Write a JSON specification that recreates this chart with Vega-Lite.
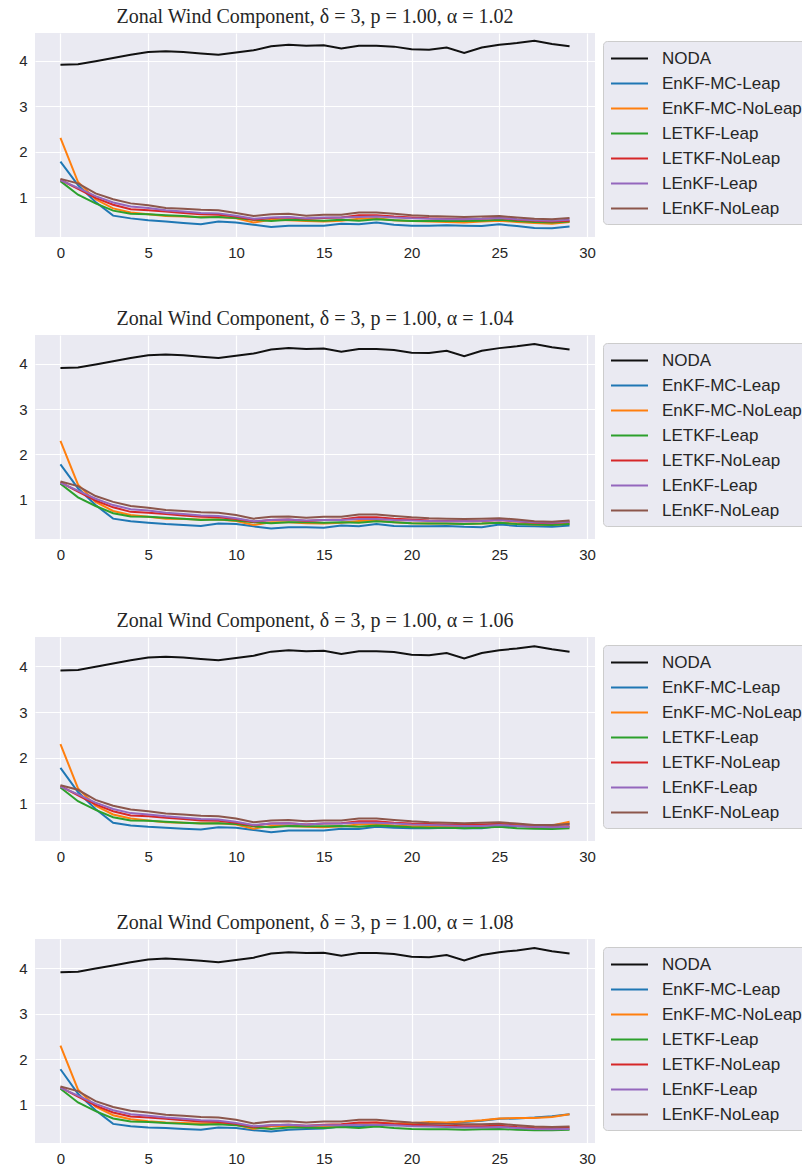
{
 "$schema": "https://vega.github.io/schema/vega-lite/v6.json",
 "background": "white",
 "padding": {"left": 18, "top": 7, "right": 0, "bottom": 0},
 "config": {
  "font": "Liberation Sans",
  "view": {"fill": "#EAEAF2", "stroke": null},
  "axis": {"domain": false, "ticks": false, "grid": true, "gridColor": "#FFFFFF", "gridWidth": 1.2, "labelFontSize": 15, "labelColor": "#262626", "labelPadding": 8, "title": null},
  "title": {"font": "Liberation Serif", "fontSize": 20, "fontWeight": "normal", "color": "#262626", "offset": 6},
  "legend": {"orient": "none", "legendX": 568, "legendY": 8, "fillColor": "#EAEAF2", "strokeColor": "#CCCCCC", "cornerRadius": 4, "padding": 7, "symbolType": "M-2,0H2", "symbolSize": 342, "symbolStrokeWidth": 2, "symbolOffset": 9, "labelFontSize": 17, "labelColor": "#262626", "labelOffset": 22, "rowPadding": 6, "labelLimit": 300},
  "concat": {"spacing": 49}
 },
 "resolve": {"legend": {"color": "independent"}},
 "datasets": {
  "d1": [
   {"t":0,"NODA":3.91,"EnKF-MC-Leap":1.78,"EnKF-MC-NoLeap":2.30,"LETKF-Leap":1.35,"LETKF-NoLeap":1.38,"LEnKF-Leap":1.37,"LEnKF-NoLeap":1.40},
   {"t":1,"NODA":3.92,"EnKF-MC-Leap":1.26,"EnKF-MC-NoLeap":1.33,"LETKF-Leap":1.05,"LETKF-NoLeap":1.18,"LEnKF-Leap":1.20,"LEnKF-NoLeap":1.30},
   {"t":2,"NODA":3.99,"EnKF-MC-Leap":0.89,"EnKF-MC-NoLeap":0.95,"LETKF-Leap":0.86,"LETKF-NoLeap":0.98,"LEnKF-Leap":1.02,"LEnKF-NoLeap":1.08},
   {"t":3,"NODA":4.06,"EnKF-MC-Leap":0.59,"EnKF-MC-NoLeap":0.75,"LETKF-Leap":0.70,"LETKF-NoLeap":0.83,"LEnKF-Leap":0.88,"LEnKF-NoLeap":0.95},
   {"t":4,"NODA":4.13,"EnKF-MC-Leap":0.53,"EnKF-MC-NoLeap":0.66,"LETKF-Leap":0.63,"LETKF-NoLeap":0.73,"LEnKF-Leap":0.79,"LEnKF-NoLeap":0.86},
   {"t":5,"NODA":4.19,"EnKF-MC-Leap":0.49,"EnKF-MC-NoLeap":0.62,"LETKF-Leap":0.62,"LETKF-NoLeap":0.71,"LEnKF-Leap":0.76,"LEnKF-NoLeap":0.82},
   {"t":6,"NODA":4.21,"EnKF-MC-Leap":0.46,"EnKF-MC-NoLeap":0.58,"LETKF-Leap":0.60,"LETKF-NoLeap":0.68,"LEnKF-Leap":0.71,"LEnKF-NoLeap":0.76},
   {"t":7,"NODA":4.19,"EnKF-MC-Leap":0.43,"EnKF-MC-NoLeap":0.57,"LETKF-Leap":0.58,"LETKF-NoLeap":0.65,"LEnKF-Leap":0.68,"LEnKF-NoLeap":0.74},
   {"t":8,"NODA":4.16,"EnKF-MC-Leap":0.40,"EnKF-MC-NoLeap":0.56,"LETKF-Leap":0.55,"LETKF-NoLeap":0.62,"LEnKF-Leap":0.65,"LEnKF-NoLeap":0.72},
   {"t":9,"NODA":4.13,"EnKF-MC-Leap":0.46,"EnKF-MC-NoLeap":0.56,"LETKF-Leap":0.56,"LETKF-NoLeap":0.61,"LEnKF-Leap":0.64,"LEnKF-NoLeap":0.71},
   {"t":10,"NODA":4.18,"EnKF-MC-Leap":0.44,"EnKF-MC-NoLeap":0.53,"LETKF-Leap":0.54,"LETKF-NoLeap":0.57,"LEnKF-Leap":0.59,"LEnKF-NoLeap":0.65},
   {"t":11,"NODA":4.23,"EnKF-MC-Leap":0.39,"EnKF-MC-NoLeap":0.44,"LETKF-Leap":0.50,"LETKF-NoLeap":0.50,"LEnKF-Leap":0.52,"LEnKF-NoLeap":0.58},
   {"t":12,"NODA":4.32,"EnKF-MC-Leap":0.34,"EnKF-MC-NoLeap":0.50,"LETKF-Leap":0.47,"LETKF-NoLeap":0.54,"LEnKF-Leap":0.55,"LEnKF-NoLeap":0.62},
   {"t":13,"NODA":4.35,"EnKF-MC-Leap":0.37,"EnKF-MC-NoLeap":0.49,"LETKF-Leap":0.50,"LETKF-NoLeap":0.55,"LEnKF-Leap":0.56,"LEnKF-NoLeap":0.63},
   {"t":14,"NODA":4.33,"EnKF-MC-Leap":0.37,"EnKF-MC-NoLeap":0.47,"LETKF-Leap":0.49,"LETKF-NoLeap":0.52,"LEnKF-Leap":0.53,"LEnKF-NoLeap":0.59},
   {"t":15,"NODA":4.34,"EnKF-MC-Leap":0.37,"EnKF-MC-NoLeap":0.46,"LETKF-Leap":0.48,"LETKF-NoLeap":0.54,"LEnKF-Leap":0.55,"LEnKF-NoLeap":0.61},
   {"t":16,"NODA":4.27,"EnKF-MC-Leap":0.41,"EnKF-MC-NoLeap":0.48,"LETKF-Leap":0.50,"LETKF-NoLeap":0.55,"LEnKF-Leap":0.55,"LEnKF-NoLeap":0.61},
   {"t":17,"NODA":4.33,"EnKF-MC-Leap":0.40,"EnKF-MC-NoLeap":0.52,"LETKF-Leap":0.48,"LETKF-NoLeap":0.60,"LEnKF-Leap":0.56,"LEnKF-NoLeap":0.66},
   {"t":18,"NODA":4.33,"EnKF-MC-Leap":0.44,"EnKF-MC-NoLeap":0.53,"LETKF-Leap":0.51,"LETKF-NoLeap":0.60,"LEnKF-Leap":0.57,"LEnKF-NoLeap":0.66},
   {"t":19,"NODA":4.31,"EnKF-MC-Leap":0.39,"EnKF-MC-NoLeap":0.49,"LETKF-Leap":0.49,"LETKF-NoLeap":0.57,"LEnKF-Leap":0.55,"LEnKF-NoLeap":0.63},
   {"t":20,"NODA":4.25,"EnKF-MC-Leap":0.37,"EnKF-MC-NoLeap":0.47,"LETKF-Leap":0.47,"LETKF-NoLeap":0.55,"LEnKF-Leap":0.53,"LEnKF-NoLeap":0.60},
   {"t":21,"NODA":4.24,"EnKF-MC-Leap":0.37,"EnKF-MC-NoLeap":0.46,"LETKF-Leap":0.47,"LETKF-NoLeap":0.53,"LEnKF-Leap":0.52,"LEnKF-NoLeap":0.58},
   {"t":22,"NODA":4.29,"EnKF-MC-Leap":0.38,"EnKF-MC-NoLeap":0.45,"LETKF-Leap":0.47,"LETKF-NoLeap":0.52,"LEnKF-Leap":0.51,"LEnKF-NoLeap":0.57},
   {"t":23,"NODA":4.17,"EnKF-MC-Leap":0.37,"EnKF-MC-NoLeap":0.44,"LETKF-Leap":0.47,"LETKF-NoLeap":0.51,"LEnKF-Leap":0.51,"LEnKF-NoLeap":0.56},
   {"t":24,"NODA":4.29,"EnKF-MC-Leap":0.36,"EnKF-MC-NoLeap":0.46,"LETKF-Leap":0.48,"LETKF-NoLeap":0.52,"LEnKF-Leap":0.52,"LEnKF-NoLeap":0.57},
   {"t":25,"NODA":4.35,"EnKF-MC-Leap":0.40,"EnKF-MC-NoLeap":0.48,"LETKF-Leap":0.50,"LETKF-NoLeap":0.54,"LEnKF-Leap":0.54,"LEnKF-NoLeap":0.58},
   {"t":26,"NODA":4.39,"EnKF-MC-Leap":0.36,"EnKF-MC-NoLeap":0.45,"LETKF-Leap":0.47,"LETKF-NoLeap":0.50,"LEnKF-Leap":0.51,"LEnKF-NoLeap":0.55},
   {"t":27,"NODA":4.44,"EnKF-MC-Leap":0.32,"EnKF-MC-NoLeap":0.43,"LETKF-Leap":0.45,"LETKF-NoLeap":0.48,"LEnKF-Leap":0.49,"LEnKF-NoLeap":0.52},
   {"t":28,"NODA":4.37,"EnKF-MC-Leap":0.31,"EnKF-MC-NoLeap":0.41,"LETKF-Leap":0.44,"LETKF-NoLeap":0.46,"LEnKF-Leap":0.48,"LEnKF-NoLeap":0.51},
   {"t":29,"NODA":4.32,"EnKF-MC-Leap":0.35,"EnKF-MC-NoLeap":0.45,"LETKF-Leap":0.46,"LETKF-NoLeap":0.48,"LEnKF-Leap":0.50,"LEnKF-NoLeap":0.54}
  ],
  "d2": [
   {"t":0,"NODA":3.91,"EnKF-MC-Leap":1.78,"EnKF-MC-NoLeap":2.30,"LETKF-Leap":1.35,"LETKF-NoLeap":1.38,"LEnKF-Leap":1.37,"LEnKF-NoLeap":1.40},
   {"t":1,"NODA":3.92,"EnKF-MC-Leap":1.25,"EnKF-MC-NoLeap":1.33,"LETKF-Leap":1.05,"LETKF-NoLeap":1.18,"LEnKF-Leap":1.20,"LEnKF-NoLeap":1.30},
   {"t":2,"NODA":3.99,"EnKF-MC-Leap":0.88,"EnKF-MC-NoLeap":0.95,"LETKF-Leap":0.86,"LETKF-NoLeap":0.98,"LEnKF-Leap":1.02,"LEnKF-NoLeap":1.08},
   {"t":3,"NODA":4.06,"EnKF-MC-Leap":0.58,"EnKF-MC-NoLeap":0.75,"LETKF-Leap":0.70,"LETKF-NoLeap":0.83,"LEnKF-Leap":0.88,"LEnKF-NoLeap":0.95},
   {"t":4,"NODA":4.13,"EnKF-MC-Leap":0.52,"EnKF-MC-NoLeap":0.66,"LETKF-Leap":0.63,"LETKF-NoLeap":0.73,"LEnKF-Leap":0.79,"LEnKF-NoLeap":0.86},
   {"t":5,"NODA":4.19,"EnKF-MC-Leap":0.49,"EnKF-MC-NoLeap":0.62,"LETKF-Leap":0.62,"LETKF-NoLeap":0.71,"LEnKF-Leap":0.76,"LEnKF-NoLeap":0.82},
   {"t":6,"NODA":4.21,"EnKF-MC-Leap":0.46,"EnKF-MC-NoLeap":0.58,"LETKF-Leap":0.60,"LETKF-NoLeap":0.68,"LEnKF-Leap":0.71,"LEnKF-NoLeap":0.77},
   {"t":7,"NODA":4.19,"EnKF-MC-Leap":0.44,"EnKF-MC-NoLeap":0.57,"LETKF-Leap":0.58,"LETKF-NoLeap":0.65,"LEnKF-Leap":0.68,"LEnKF-NoLeap":0.75},
   {"t":8,"NODA":4.16,"EnKF-MC-Leap":0.42,"EnKF-MC-NoLeap":0.56,"LETKF-Leap":0.55,"LETKF-NoLeap":0.62,"LEnKF-Leap":0.65,"LEnKF-NoLeap":0.72},
   {"t":9,"NODA":4.13,"EnKF-MC-Leap":0.47,"EnKF-MC-NoLeap":0.56,"LETKF-Leap":0.56,"LETKF-NoLeap":0.61,"LEnKF-Leap":0.64,"LEnKF-NoLeap":0.71},
   {"t":10,"NODA":4.18,"EnKF-MC-Leap":0.46,"EnKF-MC-NoLeap":0.53,"LETKF-Leap":0.54,"LETKF-NoLeap":0.57,"LEnKF-Leap":0.59,"LEnKF-NoLeap":0.66},
   {"t":11,"NODA":4.23,"EnKF-MC-Leap":0.41,"EnKF-MC-NoLeap":0.44,"LETKF-Leap":0.50,"LETKF-NoLeap":0.51,"LEnKF-Leap":0.52,"LEnKF-NoLeap":0.58},
   {"t":12,"NODA":4.32,"EnKF-MC-Leap":0.36,"EnKF-MC-NoLeap":0.50,"LETKF-Leap":0.48,"LETKF-NoLeap":0.55,"LEnKF-Leap":0.55,"LEnKF-NoLeap":0.62},
   {"t":13,"NODA":4.35,"EnKF-MC-Leap":0.39,"EnKF-MC-NoLeap":0.50,"LETKF-Leap":0.50,"LETKF-NoLeap":0.56,"LEnKF-Leap":0.56,"LEnKF-NoLeap":0.63},
   {"t":14,"NODA":4.33,"EnKF-MC-Leap":0.39,"EnKF-MC-NoLeap":0.48,"LETKF-Leap":0.50,"LETKF-NoLeap":0.53,"LEnKF-Leap":0.54,"LEnKF-NoLeap":0.60},
   {"t":15,"NODA":4.34,"EnKF-MC-Leap":0.38,"EnKF-MC-NoLeap":0.47,"LETKF-Leap":0.49,"LETKF-NoLeap":0.55,"LEnKF-Leap":0.55,"LEnKF-NoLeap":0.62},
   {"t":16,"NODA":4.27,"EnKF-MC-Leap":0.43,"EnKF-MC-NoLeap":0.49,"LETKF-Leap":0.50,"LETKF-NoLeap":0.56,"LEnKF-Leap":0.55,"LEnKF-NoLeap":0.62},
   {"t":17,"NODA":4.33,"EnKF-MC-Leap":0.41,"EnKF-MC-NoLeap":0.53,"LETKF-Leap":0.49,"LETKF-NoLeap":0.61,"LEnKF-Leap":0.57,"LEnKF-NoLeap":0.67},
   {"t":18,"NODA":4.33,"EnKF-MC-Leap":0.46,"EnKF-MC-NoLeap":0.54,"LETKF-Leap":0.52,"LETKF-NoLeap":0.61,"LEnKF-Leap":0.57,"LEnKF-NoLeap":0.67},
   {"t":19,"NODA":4.31,"EnKF-MC-Leap":0.42,"EnKF-MC-NoLeap":0.50,"LETKF-Leap":0.50,"LETKF-NoLeap":0.58,"LEnKF-Leap":0.55,"LEnKF-NoLeap":0.64},
   {"t":20,"NODA":4.25,"EnKF-MC-Leap":0.41,"EnKF-MC-NoLeap":0.48,"LETKF-Leap":0.48,"LETKF-NoLeap":0.56,"LEnKF-Leap":0.54,"LEnKF-NoLeap":0.61},
   {"t":21,"NODA":4.24,"EnKF-MC-Leap":0.41,"EnKF-MC-NoLeap":0.47,"LETKF-Leap":0.47,"LETKF-NoLeap":0.54,"LEnKF-Leap":0.53,"LEnKF-NoLeap":0.59},
   {"t":22,"NODA":4.29,"EnKF-MC-Leap":0.42,"EnKF-MC-NoLeap":0.47,"LETKF-Leap":0.47,"LETKF-NoLeap":0.53,"LEnKF-Leap":0.52,"LEnKF-NoLeap":0.58},
   {"t":23,"NODA":4.17,"EnKF-MC-Leap":0.40,"EnKF-MC-NoLeap":0.46,"LETKF-Leap":0.46,"LETKF-NoLeap":0.52,"LEnKF-Leap":0.52,"LEnKF-NoLeap":0.57},
   {"t":24,"NODA":4.29,"EnKF-MC-Leap":0.39,"EnKF-MC-NoLeap":0.47,"LETKF-Leap":0.47,"LETKF-NoLeap":0.53,"LEnKF-Leap":0.53,"LEnKF-NoLeap":0.58},
   {"t":25,"NODA":4.35,"EnKF-MC-Leap":0.45,"EnKF-MC-NoLeap":0.49,"LETKF-Leap":0.49,"LETKF-NoLeap":0.55,"LEnKF-Leap":0.55,"LEnKF-NoLeap":0.59},
   {"t":26,"NODA":4.39,"EnKF-MC-Leap":0.42,"EnKF-MC-NoLeap":0.47,"LETKF-Leap":0.46,"LETKF-NoLeap":0.52,"LEnKF-Leap":0.52,"LEnKF-NoLeap":0.56},
   {"t":27,"NODA":4.44,"EnKF-MC-Leap":0.41,"EnKF-MC-NoLeap":0.45,"LETKF-Leap":0.45,"LETKF-NoLeap":0.49,"LEnKF-Leap":0.50,"LEnKF-NoLeap":0.52},
   {"t":28,"NODA":4.37,"EnKF-MC-Leap":0.40,"EnKF-MC-NoLeap":0.44,"LETKF-Leap":0.44,"LETKF-NoLeap":0.48,"LEnKF-Leap":0.49,"LEnKF-NoLeap":0.51},
   {"t":29,"NODA":4.32,"EnKF-MC-Leap":0.43,"EnKF-MC-NoLeap":0.47,"LETKF-Leap":0.46,"LETKF-NoLeap":0.51,"LEnKF-Leap":0.51,"LEnKF-NoLeap":0.54}
  ],
  "d3": [
   {"t":0,"NODA":3.91,"EnKF-MC-Leap":1.78,"EnKF-MC-NoLeap":2.30,"LETKF-Leap":1.35,"LETKF-NoLeap":1.38,"LEnKF-Leap":1.37,"LEnKF-NoLeap":1.40},
   {"t":1,"NODA":3.92,"EnKF-MC-Leap":1.25,"EnKF-MC-NoLeap":1.33,"LETKF-Leap":1.05,"LETKF-NoLeap":1.18,"LEnKF-Leap":1.20,"LEnKF-NoLeap":1.30},
   {"t":2,"NODA":3.99,"EnKF-MC-Leap":0.88,"EnKF-MC-NoLeap":0.95,"LETKF-Leap":0.86,"LETKF-NoLeap":0.98,"LEnKF-Leap":1.02,"LEnKF-NoLeap":1.08},
   {"t":3,"NODA":4.06,"EnKF-MC-Leap":0.58,"EnKF-MC-NoLeap":0.76,"LETKF-Leap":0.70,"LETKF-NoLeap":0.83,"LEnKF-Leap":0.88,"LEnKF-NoLeap":0.95},
   {"t":4,"NODA":4.13,"EnKF-MC-Leap":0.52,"EnKF-MC-NoLeap":0.67,"LETKF-Leap":0.63,"LETKF-NoLeap":0.74,"LEnKF-Leap":0.79,"LEnKF-NoLeap":0.87},
   {"t":5,"NODA":4.19,"EnKF-MC-Leap":0.49,"EnKF-MC-NoLeap":0.63,"LETKF-Leap":0.62,"LETKF-NoLeap":0.72,"LEnKF-Leap":0.76,"LEnKF-NoLeap":0.83},
   {"t":6,"NODA":4.21,"EnKF-MC-Leap":0.47,"EnKF-MC-NoLeap":0.59,"LETKF-Leap":0.60,"LETKF-NoLeap":0.69,"LEnKF-Leap":0.72,"LEnKF-NoLeap":0.78},
   {"t":7,"NODA":4.19,"EnKF-MC-Leap":0.45,"EnKF-MC-NoLeap":0.58,"LETKF-Leap":0.58,"LETKF-NoLeap":0.66,"LEnKF-Leap":0.69,"LEnKF-NoLeap":0.76},
   {"t":8,"NODA":4.16,"EnKF-MC-Leap":0.43,"EnKF-MC-NoLeap":0.57,"LETKF-Leap":0.56,"LETKF-NoLeap":0.63,"LEnKF-Leap":0.66,"LEnKF-NoLeap":0.73},
   {"t":9,"NODA":4.13,"EnKF-MC-Leap":0.48,"EnKF-MC-NoLeap":0.57,"LETKF-Leap":0.57,"LETKF-NoLeap":0.62,"LEnKF-Leap":0.65,"LEnKF-NoLeap":0.72},
   {"t":10,"NODA":4.18,"EnKF-MC-Leap":0.47,"EnKF-MC-NoLeap":0.54,"LETKF-Leap":0.55,"LETKF-NoLeap":0.58,"LEnKF-Leap":0.60,"LEnKF-NoLeap":0.67},
   {"t":11,"NODA":4.23,"EnKF-MC-Leap":0.42,"EnKF-MC-NoLeap":0.45,"LETKF-Leap":0.50,"LETKF-NoLeap":0.52,"LEnKF-Leap":0.53,"LEnKF-NoLeap":0.59},
   {"t":12,"NODA":4.32,"EnKF-MC-Leap":0.37,"EnKF-MC-NoLeap":0.51,"LETKF-Leap":0.48,"LETKF-NoLeap":0.56,"LEnKF-Leap":0.56,"LEnKF-NoLeap":0.63},
   {"t":13,"NODA":4.35,"EnKF-MC-Leap":0.41,"EnKF-MC-NoLeap":0.51,"LETKF-Leap":0.51,"LETKF-NoLeap":0.57,"LEnKF-Leap":0.57,"LEnKF-NoLeap":0.64},
   {"t":14,"NODA":4.33,"EnKF-MC-Leap":0.41,"EnKF-MC-NoLeap":0.49,"LETKF-Leap":0.50,"LETKF-NoLeap":0.54,"LEnKF-Leap":0.54,"LEnKF-NoLeap":0.61},
   {"t":15,"NODA":4.34,"EnKF-MC-Leap":0.41,"EnKF-MC-NoLeap":0.48,"LETKF-Leap":0.50,"LETKF-NoLeap":0.56,"LEnKF-Leap":0.56,"LEnKF-NoLeap":0.63},
   {"t":16,"NODA":4.27,"EnKF-MC-Leap":0.45,"EnKF-MC-NoLeap":0.50,"LETKF-Leap":0.51,"LETKF-NoLeap":0.57,"LEnKF-Leap":0.56,"LEnKF-NoLeap":0.63},
   {"t":17,"NODA":4.33,"EnKF-MC-Leap":0.44,"EnKF-MC-NoLeap":0.54,"LETKF-Leap":0.49,"LETKF-NoLeap":0.61,"LEnKF-Leap":0.58,"LEnKF-NoLeap":0.67},
   {"t":18,"NODA":4.33,"EnKF-MC-Leap":0.49,"EnKF-MC-NoLeap":0.55,"LETKF-Leap":0.52,"LETKF-NoLeap":0.61,"LEnKF-Leap":0.58,"LEnKF-NoLeap":0.67},
   {"t":19,"NODA":4.31,"EnKF-MC-Leap":0.47,"EnKF-MC-NoLeap":0.52,"LETKF-Leap":0.50,"LETKF-NoLeap":0.58,"LEnKF-Leap":0.56,"LEnKF-NoLeap":0.64},
   {"t":20,"NODA":4.25,"EnKF-MC-Leap":0.46,"EnKF-MC-NoLeap":0.50,"LETKF-Leap":0.48,"LETKF-NoLeap":0.56,"LEnKF-Leap":0.54,"LEnKF-NoLeap":0.61},
   {"t":21,"NODA":4.24,"EnKF-MC-Leap":0.46,"EnKF-MC-NoLeap":0.50,"LETKF-Leap":0.47,"LETKF-NoLeap":0.55,"LEnKF-Leap":0.53,"LEnKF-NoLeap":0.59},
   {"t":22,"NODA":4.29,"EnKF-MC-Leap":0.47,"EnKF-MC-NoLeap":0.51,"LETKF-Leap":0.47,"LETKF-NoLeap":0.54,"LEnKF-Leap":0.52,"LEnKF-NoLeap":0.58},
   {"t":23,"NODA":4.17,"EnKF-MC-Leap":0.46,"EnKF-MC-NoLeap":0.51,"LETKF-Leap":0.46,"LETKF-NoLeap":0.53,"LEnKF-Leap":0.51,"LEnKF-NoLeap":0.57},
   {"t":24,"NODA":4.29,"EnKF-MC-Leap":0.46,"EnKF-MC-NoLeap":0.52,"LETKF-Leap":0.47,"LETKF-NoLeap":0.54,"LEnKF-Leap":0.51,"LEnKF-NoLeap":0.58},
   {"t":25,"NODA":4.35,"EnKF-MC-Leap":0.51,"EnKF-MC-NoLeap":0.56,"LETKF-Leap":0.49,"LETKF-NoLeap":0.55,"LEnKF-Leap":0.53,"LEnKF-NoLeap":0.59},
   {"t":26,"NODA":4.39,"EnKF-MC-Leap":0.50,"EnKF-MC-NoLeap":0.55,"LETKF-Leap":0.46,"LETKF-NoLeap":0.52,"LEnKF-Leap":0.51,"LEnKF-NoLeap":0.56},
   {"t":27,"NODA":4.44,"EnKF-MC-Leap":0.50,"EnKF-MC-NoLeap":0.51,"LETKF-Leap":0.45,"LETKF-NoLeap":0.49,"LEnKF-Leap":0.49,"LEnKF-NoLeap":0.53},
   {"t":28,"NODA":4.37,"EnKF-MC-Leap":0.52,"EnKF-MC-NoLeap":0.52,"LETKF-Leap":0.44,"LETKF-NoLeap":0.49,"LEnKF-Leap":0.48,"LEnKF-NoLeap":0.53},
   {"t":29,"NODA":4.32,"EnKF-MC-Leap":0.56,"EnKF-MC-NoLeap":0.60,"LETKF-Leap":0.46,"LETKF-NoLeap":0.50,"LEnKF-Leap":0.49,"LEnKF-NoLeap":0.55}
  ],
  "d4": [
   {"t":0,"NODA":3.91,"EnKF-MC-Leap":1.78,"EnKF-MC-NoLeap":2.30,"LETKF-Leap":1.35,"LETKF-NoLeap":1.38,"LEnKF-Leap":1.37,"LEnKF-NoLeap":1.40},
   {"t":1,"NODA":3.92,"EnKF-MC-Leap":1.24,"EnKF-MC-NoLeap":1.33,"LETKF-Leap":1.05,"LETKF-NoLeap":1.18,"LEnKF-Leap":1.20,"LEnKF-NoLeap":1.30},
   {"t":2,"NODA":3.99,"EnKF-MC-Leap":0.88,"EnKF-MC-NoLeap":0.96,"LETKF-Leap":0.86,"LETKF-NoLeap":0.98,"LEnKF-Leap":1.02,"LEnKF-NoLeap":1.08},
   {"t":3,"NODA":4.06,"EnKF-MC-Leap":0.58,"EnKF-MC-NoLeap":0.77,"LETKF-Leap":0.70,"LETKF-NoLeap":0.83,"LEnKF-Leap":0.88,"LEnKF-NoLeap":0.95},
   {"t":4,"NODA":4.13,"EnKF-MC-Leap":0.53,"EnKF-MC-NoLeap":0.68,"LETKF-Leap":0.63,"LETKF-NoLeap":0.74,"LEnKF-Leap":0.79,"LEnKF-NoLeap":0.87},
   {"t":5,"NODA":4.19,"EnKF-MC-Leap":0.50,"EnKF-MC-NoLeap":0.64,"LETKF-Leap":0.62,"LETKF-NoLeap":0.72,"LEnKF-Leap":0.76,"LEnKF-NoLeap":0.83},
   {"t":6,"NODA":4.21,"EnKF-MC-Leap":0.49,"EnKF-MC-NoLeap":0.61,"LETKF-Leap":0.60,"LETKF-NoLeap":0.69,"LEnKF-Leap":0.72,"LEnKF-NoLeap":0.78},
   {"t":7,"NODA":4.19,"EnKF-MC-Leap":0.47,"EnKF-MC-NoLeap":0.60,"LETKF-Leap":0.58,"LETKF-NoLeap":0.66,"LEnKF-Leap":0.69,"LEnKF-NoLeap":0.76},
   {"t":8,"NODA":4.16,"EnKF-MC-Leap":0.45,"EnKF-MC-NoLeap":0.59,"LETKF-Leap":0.56,"LETKF-NoLeap":0.63,"LEnKF-Leap":0.66,"LEnKF-NoLeap":0.73},
   {"t":9,"NODA":4.13,"EnKF-MC-Leap":0.50,"EnKF-MC-NoLeap":0.59,"LETKF-Leap":0.57,"LETKF-NoLeap":0.62,"LEnKF-Leap":0.65,"LEnKF-NoLeap":0.72},
   {"t":10,"NODA":4.18,"EnKF-MC-Leap":0.49,"EnKF-MC-NoLeap":0.56,"LETKF-Leap":0.55,"LETKF-NoLeap":0.58,"LEnKF-Leap":0.60,"LEnKF-NoLeap":0.67},
   {"t":11,"NODA":4.23,"EnKF-MC-Leap":0.44,"EnKF-MC-NoLeap":0.47,"LETKF-Leap":0.50,"LETKF-NoLeap":0.51,"LEnKF-Leap":0.53,"LEnKF-NoLeap":0.59},
   {"t":12,"NODA":4.32,"EnKF-MC-Leap":0.41,"EnKF-MC-NoLeap":0.53,"LETKF-Leap":0.47,"LETKF-NoLeap":0.55,"LEnKF-Leap":0.55,"LEnKF-NoLeap":0.63},
   {"t":13,"NODA":4.35,"EnKF-MC-Leap":0.45,"EnKF-MC-NoLeap":0.53,"LETKF-Leap":0.50,"LETKF-NoLeap":0.56,"LEnKF-Leap":0.56,"LEnKF-NoLeap":0.64},
   {"t":14,"NODA":4.33,"EnKF-MC-Leap":0.47,"EnKF-MC-NoLeap":0.52,"LETKF-Leap":0.50,"LETKF-NoLeap":0.54,"LEnKF-Leap":0.54,"LEnKF-NoLeap":0.61},
   {"t":15,"NODA":4.34,"EnKF-MC-Leap":0.48,"EnKF-MC-NoLeap":0.52,"LETKF-Leap":0.49,"LETKF-NoLeap":0.56,"LEnKF-Leap":0.55,"LEnKF-NoLeap":0.63},
   {"t":16,"NODA":4.27,"EnKF-MC-Leap":0.53,"EnKF-MC-NoLeap":0.55,"LETKF-Leap":0.51,"LETKF-NoLeap":0.57,"LEnKF-Leap":0.55,"LEnKF-NoLeap":0.63},
   {"t":17,"NODA":4.33,"EnKF-MC-Leap":0.52,"EnKF-MC-NoLeap":0.59,"LETKF-Leap":0.49,"LETKF-NoLeap":0.61,"LEnKF-Leap":0.56,"LEnKF-NoLeap":0.67},
   {"t":18,"NODA":4.33,"EnKF-MC-Leap":0.56,"EnKF-MC-NoLeap":0.61,"LETKF-Leap":0.52,"LETKF-NoLeap":0.61,"LEnKF-Leap":0.56,"LEnKF-NoLeap":0.67},
   {"t":19,"NODA":4.31,"EnKF-MC-Leap":0.55,"EnKF-MC-NoLeap":0.59,"LETKF-Leap":0.49,"LETKF-NoLeap":0.58,"LEnKF-Leap":0.55,"LEnKF-NoLeap":0.64},
   {"t":20,"NODA":4.25,"EnKF-MC-Leap":0.56,"EnKF-MC-NoLeap":0.60,"LETKF-Leap":0.47,"LETKF-NoLeap":0.56,"LEnKF-Leap":0.53,"LEnKF-NoLeap":0.61},
   {"t":21,"NODA":4.24,"EnKF-MC-Leap":0.58,"EnKF-MC-NoLeap":0.62,"LETKF-Leap":0.46,"LETKF-NoLeap":0.55,"LEnKF-Leap":0.52,"LEnKF-NoLeap":0.59},
   {"t":22,"NODA":4.29,"EnKF-MC-Leap":0.60,"EnKF-MC-NoLeap":0.61,"LETKF-Leap":0.46,"LETKF-NoLeap":0.54,"LEnKF-Leap":0.51,"LEnKF-NoLeap":0.58},
   {"t":23,"NODA":4.17,"EnKF-MC-Leap":0.62,"EnKF-MC-NoLeap":0.63,"LETKF-Leap":0.45,"LETKF-NoLeap":0.53,"LEnKF-Leap":0.50,"LEnKF-NoLeap":0.57},
   {"t":24,"NODA":4.29,"EnKF-MC-Leap":0.65,"EnKF-MC-NoLeap":0.66,"LETKF-Leap":0.46,"LETKF-NoLeap":0.53,"LEnKF-Leap":0.50,"LEnKF-NoLeap":0.57},
   {"t":25,"NODA":4.35,"EnKF-MC-Leap":0.69,"EnKF-MC-NoLeap":0.70,"LETKF-Leap":0.47,"LETKF-NoLeap":0.54,"LEnKF-Leap":0.51,"LEnKF-NoLeap":0.58},
   {"t":26,"NODA":4.39,"EnKF-MC-Leap":0.70,"EnKF-MC-NoLeap":0.71,"LETKF-Leap":0.45,"LETKF-NoLeap":0.51,"LEnKF-Leap":0.49,"LEnKF-NoLeap":0.55},
   {"t":27,"NODA":4.44,"EnKF-MC-Leap":0.72,"EnKF-MC-NoLeap":0.71,"LETKF-Leap":0.44,"LETKF-NoLeap":0.49,"LEnKF-Leap":0.47,"LEnKF-NoLeap":0.52},
   {"t":28,"NODA":4.37,"EnKF-MC-Leap":0.75,"EnKF-MC-NoLeap":0.73,"LETKF-Leap":0.44,"LETKF-NoLeap":0.48,"LEnKF-Leap":0.46,"LEnKF-NoLeap":0.51},
   {"t":29,"NODA":4.32,"EnKF-MC-Leap":0.79,"EnKF-MC-NoLeap":0.79,"LETKF-Leap":0.45,"LETKF-NoLeap":0.50,"LEnKF-Leap":0.47,"LEnKF-NoLeap":0.52}
  ]
 },
 "vconcat": [
  {
   "data": {"name": "d1"},
   "width": 560, "height": 204,
   "title": "Zonal Wind Component, δ = 3, p = 1.00, α = 1.02",
   "transform": [{"fold": ["NODA","EnKF-MC-Leap","EnKF-MC-NoLeap","LETKF-Leap","LETKF-NoLeap","LEnKF-Leap","LEnKF-NoLeap"], "as": ["series","value"]}],
   "mark": {"type": "line", "strokeWidth": 2, "clip": true},
   "encoding": {
    "x": {"field": "t", "type": "quantitative", "scale": {"domain": [-1.45, 30.45], "nice": false, "zero": false}, "axis": {"values": [0,5,10,15,20,25,30]}},
    "y": {"field": "value", "type": "quantitative", "scale": {"domain": [0.12, 4.61], "nice": false, "zero": false}, "axis": {"values": [1,2,3,4]}},
    "color": {"field": "series", "type": "nominal", "scale": {"domain": ["NODA","EnKF-MC-Leap","EnKF-MC-NoLeap","LETKF-Leap","LETKF-NoLeap","LEnKF-Leap","LEnKF-NoLeap"], "range": ["#111111","#1f77b4","#ff7f0e","#2ca02c","#d62728","#9467bd","#8c564b"]}, "legend": {"title": null}}
   }
  },
  {
   "data": {"name": "d2"},
   "width": 560, "height": 204,
   "title": "Zonal Wind Component, δ = 3, p = 1.00, α = 1.04",
   "transform": [{"fold": ["NODA","EnKF-MC-Leap","EnKF-MC-NoLeap","LETKF-Leap","LETKF-NoLeap","LEnKF-Leap","LEnKF-NoLeap"], "as": ["series","value"]}],
   "mark": {"type": "line", "strokeWidth": 2, "clip": true},
   "encoding": {
    "x": {"field": "t", "type": "quantitative", "scale": {"domain": [-1.45, 30.45], "nice": false, "zero": false}, "axis": {"values": [0,5,10,15,20,25,30]}},
    "y": {"field": "value", "type": "quantitative", "scale": {"domain": [0.13, 4.64], "nice": false, "zero": false}, "axis": {"values": [1,2,3,4]}},
    "color": {"field": "series", "type": "nominal", "scale": {"domain": ["NODA","EnKF-MC-Leap","EnKF-MC-NoLeap","LETKF-Leap","LETKF-NoLeap","LEnKF-Leap","LEnKF-NoLeap"], "range": ["#111111","#1f77b4","#ff7f0e","#2ca02c","#d62728","#9467bd","#8c564b"]}, "legend": {"title": null}}
   }
  },
  {
   "data": {"name": "d3"},
   "width": 560, "height": 204,
   "title": "Zonal Wind Component, δ = 3, p = 1.00, α = 1.06",
   "transform": [{"fold": ["NODA","EnKF-MC-Leap","EnKF-MC-NoLeap","LETKF-Leap","LETKF-NoLeap","LEnKF-Leap","LEnKF-NoLeap"], "as": ["series","value"]}],
   "mark": {"type": "line", "strokeWidth": 2, "clip": true},
   "encoding": {
    "x": {"field": "t", "type": "quantitative", "scale": {"domain": [-1.45, 30.45], "nice": false, "zero": false}, "axis": {"values": [0,5,10,15,20,25,30]}},
    "y": {"field": "value", "type": "quantitative", "scale": {"domain": [0.18, 4.64], "nice": false, "zero": false}, "axis": {"values": [1,2,3,4]}},
    "color": {"field": "series", "type": "nominal", "scale": {"domain": ["NODA","EnKF-MC-Leap","EnKF-MC-NoLeap","LETKF-Leap","LETKF-NoLeap","LEnKF-Leap","LEnKF-NoLeap"], "range": ["#111111","#1f77b4","#ff7f0e","#2ca02c","#d62728","#9467bd","#8c564b"]}, "legend": {"title": null}}
   }
  },
  {
   "data": {"name": "d4"},
   "width": 560, "height": 204,
   "title": "Zonal Wind Component, δ = 3, p = 1.00, α = 1.08",
   "transform": [{"fold": ["NODA","EnKF-MC-Leap","EnKF-MC-NoLeap","LETKF-Leap","LETKF-NoLeap","LEnKF-Leap","LEnKF-NoLeap"], "as": ["series","value"]}],
   "mark": {"type": "line", "strokeWidth": 2, "clip": true},
   "encoding": {
    "x": {"field": "t", "type": "quantitative", "scale": {"domain": [-1.45, 30.45], "nice": false, "zero": false}, "axis": {"values": [0,5,10,15,20,25,30]}},
    "y": {"field": "value", "type": "quantitative", "scale": {"domain": [0.16, 4.64], "nice": false, "zero": false}, "axis": {"values": [1,2,3,4]}},
    "color": {"field": "series", "type": "nominal", "scale": {"domain": ["NODA","EnKF-MC-Leap","EnKF-MC-NoLeap","LETKF-Leap","LETKF-NoLeap","LEnKF-Leap","LEnKF-NoLeap"], "range": ["#111111","#1f77b4","#ff7f0e","#2ca02c","#d62728","#9467bd","#8c564b"]}, "legend": {"title": null}}
   }
  }
 ]
}
